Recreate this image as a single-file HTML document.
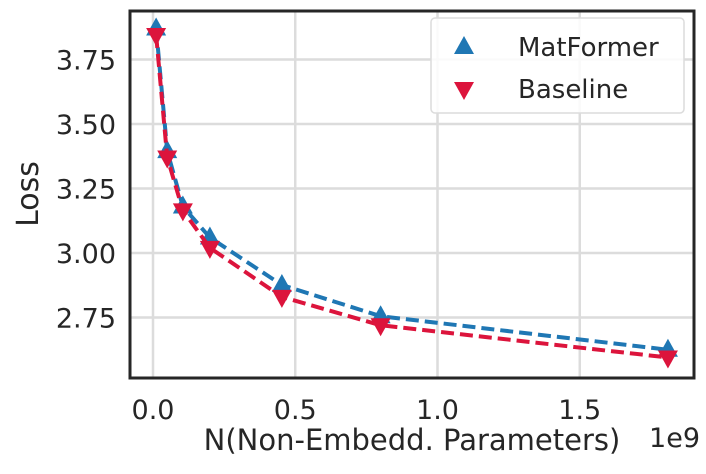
<!DOCTYPE html>
<html><head><meta charset="utf-8"><style>
body{margin:0;background:#fff;}
svg{display:block;font-family:"DejaVu Sans","Liberation Sans",sans-serif;}
</style></head><body>
<svg id="chart" width="706" height="474"></svg>
<script>
const xValues=[0.011,0.05,0.105,0.2,0.453,0.8,1.81];
const matformerLoss=[3.87,3.395,3.18,3.06,2.876,2.755,2.625];
const baselineLoss=[3.845,3.37,3.165,3.02,2.83,2.72,2.595];
const xTicks=[0,0.5,1.0,1.5];
const xTickLabels=["0.0","0.5","1.0","1.5"];
const yTicks=[2.75,3.0,3.25,3.5,3.75];
const yTickLabels=["2.75","3.00","3.25","3.50","3.75"];
const NS="http://www.w3.org/2000/svg";
const svg=document.getElementById('chart');
const L=130,R=694,T=11,B=378;
const sx=v=>153+v*284.5;
const sy=v=>253-(v-3.0)*258;
function mk(tag,attrs,parent){const e=document.createElementNS(NS,tag);for(const k in attrs)e.setAttribute(k,attrs[k]);(parent||svg).appendChild(e);return e;}
xTicks.forEach((t,i)=>{
 const g=mk('line',{x1:sx(t),x2:sx(t),y1:T,y2:B,stroke:'#dcdcdc','stroke-width':2.5});
 
 
 const tx=mk('text',{x:sx(t),y:419,'font-size':27,fill:'#262626','text-anchor':'middle'});
 tx.textContent=xTickLabels[i];
 
 
});
yTicks.forEach((t,i)=>{
 const g=mk('line',{x1:L,x2:R,y1:sy(t),y2:sy(t),stroke:'#dcdcdc','stroke-width':2.5});
 
 
 const tx=mk('text',{x:116,y:sy(t)+10,'font-size':27,fill:'#262626','text-anchor':'end'});
 tx.textContent=yTickLabels[i];
 
 
});
function series(vals,color,name,up){
 const pts=vals.map((v,i)=>sx(xValues[i])+','+sy(v)).join(' ');
 const pl=mk('polyline',{points:pts,fill:'none',stroke:color,'stroke-width':4,'stroke-dasharray':'13,6'});
 
 
 vals.forEach((v,i)=>{
  const x=sx(xValues[i]),y=sy(v);
  const p=up?`${x},${y-11} ${x-10},${y+7} ${x+10},${y+7}`:`${x},${y+11} ${x-10},${y-7} ${x+10},${y-7}`;
  const m=mk('polygon',{points:p,fill:color});
  
  
 });
}
series(matformerLoss,'#1f77b4','matformer',true);
series(baselineLoss,'#dc143c','baseline',false);
const fr=mk('rect',{x:L,y:T,width:R-L,height:B-T,fill:'none',stroke:'#262626','stroke-width':3});


</script>
<svg style="position:absolute;left:0;top:0" width="706" height="474">
<g>
<rect x="431" y="18" width="253" height="95" rx="4" fill="#fff" fill-opacity="0.85" stroke="#dcdcdc" stroke-width="1.5"/>
<polygon points="464,36 454,54 474,54" fill="#1f77b4"/>
<text x="518" y="56" font-size="26" fill="#262626">MatFormer</text>
<polygon points="464,100 454,82 474,82" fill="#dc143c"/>
<text x="518" y="98" font-size="26" fill="#262626">Baseline</text>
</g>
<text x="0" y="0" font-size="30" fill="#262626" text-anchor="middle" transform="translate(38,194) rotate(-90)">Loss</text>
<text x="412" y="450" font-size="29" fill="#262626" text-anchor="middle">N(Non-Embedd. Parameters)</text>
<text x="700" y="447" font-size="27" fill="#262626" text-anchor="end">1e9</text>
</svg>
</body></html>
